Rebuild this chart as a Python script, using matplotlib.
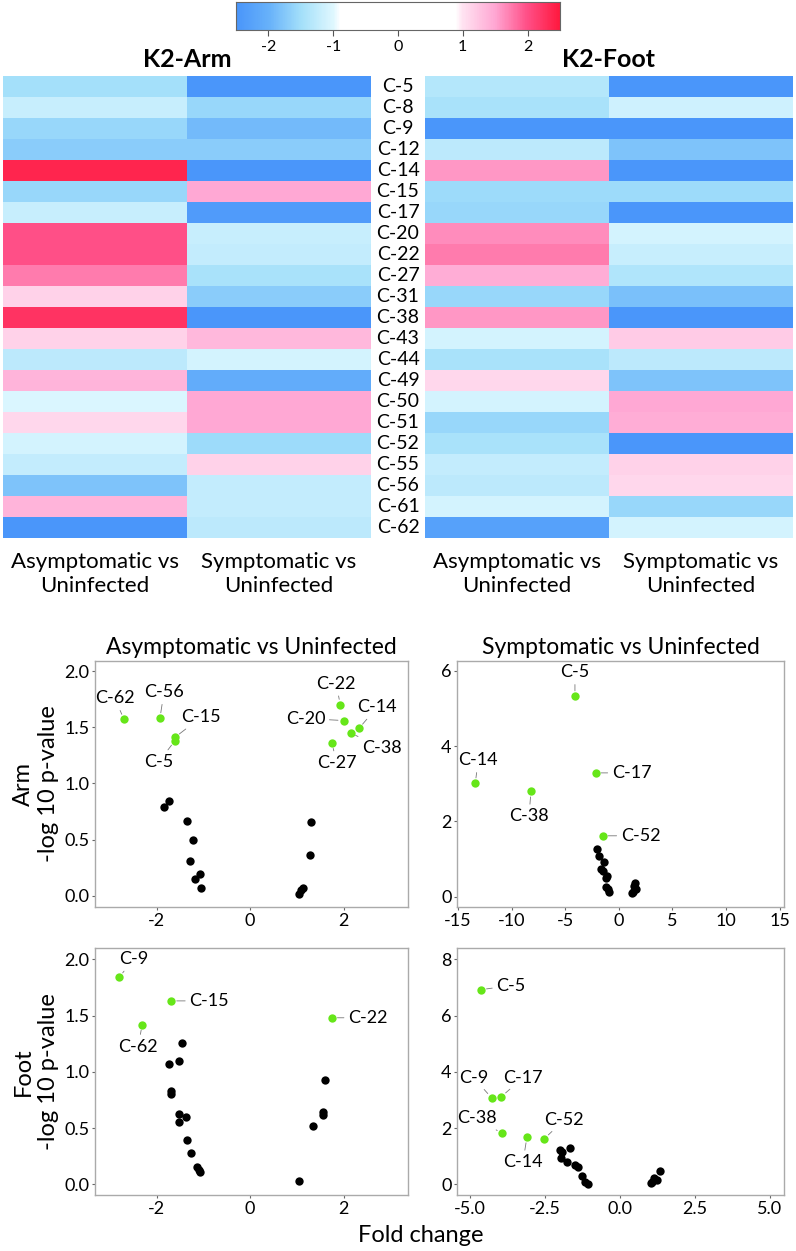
import numpy as np
import matplotlib
matplotlib.use("Agg")
import matplotlib.pyplot as plt
from matplotlib.colors import LinearSegmentedColormap, Normalize

plt.rcParams['font.family'] = ['Lato', 'DejaVu Sans']
plt.rcParams['axes.unicode_minus'] = False

# heatmap data (fold change, colour scale clipped at +-2.5)
compounds = ["C-5", "C-8", "C-9", "C-12", "C-14", "C-15", "C-17", "C-20", "C-22", "C-27", "C-31",
             "C-38", "C-43", "C-44", "C-49", "C-50", "C-51", "C-52", "C-55", "C-56", "C-61", "C-62"]
arm_asym = [-1.5, -1.2, -1.6, -1.7, 2.4, -1.6, -1.2, 2.0, 2.0, 1.75, 1.15,
            2.25, 1.15, -1.3, 1.4, -1.05, 1.1, -1.1, -1.25, -1.8, 1.4, -2.5]
arm_sym = [-2.5, -1.6, -1.9, -1.7, -2.5, 1.5, -2.4, -1.2, -1.25, -1.45, -1.7,
           -2.5, 1.35, -1.1, -2.1, 1.5, 1.5, -1.55, 1.15, -1.25, -1.25, -1.3]
foot_asym = [-1.35, -1.45, -2.5, -1.3, 1.6, -1.55, -1.6, 1.65, 1.75, 1.45, -1.6,
             1.6, -1.1, -1.45, 1.1, -1.1, -1.6, -1.45, -1.25, -1.3, -1.1, -2.3]
foot_sym = [-2.5, -1.15, -2.5, -1.8, -2.5, -1.55, -2.5, -1.1, -1.2, -1.4, -1.85,
            -2.5, 1.2, -1.3, -1.8, 1.5, 1.45, -2.5, 1.15, 1.1, -1.6, -1.1]
col_labels = ["Asymptomatic vs\nUninfected", "Symptomatic vs\nUninfected"]

# volcano data: (fold change, -log10 p)
arm_asym_sig = {"C-62": (-2.70, 1.57), "C-56": (-1.93, 1.58), "C-15": (-1.61, 1.41), "C-5": (-1.61, 1.38),
                "C-22": (1.93, 1.70), "C-20": (2.00, 1.56), "C-14": (2.33, 1.49), "C-38": (2.15, 1.45),
                "C-27": (1.75, 1.36)}
arm_asym_fc = [-1.85, -1.74, -1.35, -1.23, -1.28, -1.18, -1.08, -1.05, 1.30, 1.28, 1.05, 1.10, 1.14]
arm_asym_p = [0.79, 0.84, 0.67, 0.50, 0.31, 0.15, 0.19, 0.065, 0.66, 0.36, 0.02, 0.05, 0.065]

arm_sym_sig = {"C-5": (-4.1, 5.32), "C-14": (-13.4, 3.01), "C-38": (-8.2, 2.80),
               "C-17": (-2.17, 3.29), "C-52": (-1.52, 1.62)}
arm_sym_fc = [-2.08, -1.86, -1.40, -1.68, -1.52, -1.15, -1.24, -1.21, -1.05, -0.90, 1.49, 1.43, 1.55, 1.24, 1.33]
arm_sym_p = [1.28, 1.08, 0.92, 0.75, 0.69, 0.55, 0.49, 0.27, 0.20, 0.13, 0.38, 0.28, 0.20, 0.09, 0.13]

foot_asym_sig = {"C-9": (-2.80, 1.84), "C-15": (-1.69, 1.63), "C-62": (-2.31, 1.42), "C-22": (1.75, 1.48)}
foot_asym_fc = [-1.46, -1.52, -1.73, -1.70, -1.70, -1.53, -1.37, -1.53, -1.35, -1.26, -1.14, -1.10, -1.07,
                1.61, 1.57, 1.57, 1.35, 1.05]
foot_asym_p = [1.26, 1.10, 1.07, 0.83, 0.80, 0.625, 0.60, 0.55, 0.39, 0.28, 0.15, 0.13, 0.11,
               0.93, 0.64, 0.62, 0.52, 0.03]

foot_sym_sig = {"C-5": (-4.63, 6.92), "C-9": (-4.28, 3.08), "C-17": (-3.95, 3.12), "C-38": (-3.93, 1.81),
                "C-14": (-3.10, 1.67), "C-52": (-2.52, 1.62)}
foot_sym_fc = [-1.99, -1.68, -1.94, -1.96, -1.77, -1.51, -1.39, -1.27, -1.17, -1.08, 1.33, 1.24, 1.13, 1.02, 1.07]
foot_sym_p = [1.22, 1.29, 1.14, 0.92, 0.80, 0.69, 0.63, 0.30, 0.09, 0.02, 0.47, 0.15, 0.23, 0.03, 0.09]

# label offsets in pixels (dx, dy) from each point
off_arm_asym = {"C-62": (-9, 21), "C-56": (4, 26), "C-15": (26, 20), "C-5": (-16, -21), "C-22": (-4, 21),
                "C-20": (-38, 2), "C-14": (18, 21), "C-38": (31, -15), "C-27": (5, -20)}
off_arm_sym = {"C-5": (0, 24), "C-14": (3, 23), "C-38": (-2, -25), "C-17": (36, 0), "C-52": (38, 0)}
off_foot_asym = {"C-9": (14, 18), "C-15": (38, 0), "C-62": (-4, -22), "C-22": (36, 0)}
off_foot_sym = {"C-5": (30, 4), "C-9": (-18, 20), "C-17": (22, 19), "C-38": (-25, 15), "C-14": (-4, -25),
                "C-52": (20, 19)}

W, H = 796, 1251
fig = plt.figure(figsize=(W / 100, H / 100), dpi=100)


def ax_px(x0, y0, x1, y1):
    return fig.add_axes([x0 / W, 1 - y1 / H, (x1 - x0) / W, (y1 - y0) / H])


cmap = LinearSegmentedColormap.from_list("fc", [
    (0.0, "#4a96fa"), (0.1, "#68b2fa"), (0.2, "#a4e0fa"), (0.3, "#e0f8ff"), (0.32, "#ffffff"),
    (0.68, "#ffffff"), (0.7, "#ffe4f2"), (0.8, "#ffa8d4"), (0.9, "#ff5088"), (1.0, "#ff1a40")])
norm = Normalize(-2.5, 2.5)

# colour bar
cax = ax_px(236, 2, 560, 30)
grad = np.linspace(-2.5, 2.5, 400).reshape(1, -1)
cax.imshow(grad, cmap=cmap, norm=norm, aspect="auto", extent=[-2.5, 2.5, 0, 1])
cax.set_yticks([])
cax.set_xticks([-2, -1, 0, 1, 2])
cax.tick_params(axis="x", length=4, color="#555555", labelsize=11.5, pad=3)
for s in cax.spines.values():
    s.set_color("#666666")
    s.set_linewidth(0.8)

# heatmaps
for (x0, x1), title, c1, c2 in [((3, 371), "K2-Arm", arm_asym, arm_sym),
                                 ((425, 793), "K2-Foot", foot_asym, foot_sym)]:
    ax = ax_px(x0, 76, x1, 538)
    data = np.array([c1, c2]).T
    ax.pcolormesh(np.arange(3), np.arange(len(compounds) + 1), data, cmap=cmap, norm=norm,
                  edgecolors="face", linewidth=0, antialiased=False)
    ax.set_ylim(len(compounds), 0)
    ax.set_xlim(0, 2)
    ax.set_xticks([0.5, 1.5])
    ax.set_xticklabels(col_labels, fontsize=16, linespacing=1.25)
    ax.tick_params(axis="x", length=0, pad=10)
    ax.set_yticks([])
    for s in ax.spines.values():
        s.set_visible(False)
    ax.text(0.5, 1.036, title, transform=ax.transAxes, ha="center", va="center",
            fontsize=18, fontweight="bold")

# row labels between heatmaps
lab_ax = ax_px(371, 76, 425, 538)
lab_ax.set_axis_off()
lab_ax.set_ylim(len(compounds), 0)
lab_ax.set_xlim(0, 1)
for i, c in enumerate(compounds):
    lab_ax.text(0.5, i + 0.5, c, ha="center", va="center", fontsize=14)

green = "#66e619"


def volcano(ax, sig, fc, p, offs, xlim, ylim, xticks, yticks, xfmt, yfmt):
    ax.scatter(fc, p, s=36, color="black", zorder=3, linewidths=0)
    for name, (x, y) in sig.items():
        ax.scatter([x], [y], s=36, color=green, zorder=4, linewidths=0)
        dx, dy = offs[name]
        ax.annotate(name, (x, y), xytext=(dx, dy), textcoords="offset pixels",
                    ha="center", va="center", fontsize=13,
                    arrowprops=dict(arrowstyle="-", color="#777777", lw=0.6, shrinkA=1, shrinkB=4))
    ax.set_xlim(*xlim)
    ax.set_ylim(*ylim)
    ax.set_xticks(xticks)
    ax.set_xticklabels([xfmt.format(v) for v in xticks])
    ax.set_yticks(yticks)
    ax.set_yticklabels([yfmt.format(v) for v in yticks])
    ax.tick_params(labelsize=13, length=2.5, color="#666666", pad=1.5)
    for s in ax.spines.values():
        s.set_color("#aaaaaa")
        s.set_linewidth(1.0)


a1 = ax_px(95, 661, 408, 907)
volcano(a1, arm_asym_sig, arm_asym_fc, arm_asym_p, off_arm_asym, (-3.32, 3.38), (-0.1, 2.09),
        [-2, 0, 2], [0.0, 0.5, 1.0, 1.5, 2.0], "{:g}", "{:.1f}")
a1.set_title("Asymptomatic vs Uninfected", fontsize=16.5, pad=5)
a1.set_ylabel("Arm\n-log 10 p-value", fontsize=17, linespacing=1.2, labelpad=4)

a2 = ax_px(457, 661, 784, 907)
volcano(a2, arm_sym_sig, arm_sym_fc, arm_sym_p, off_arm_sym, (-15.1, 15.4), (-0.27, 6.26),
        [-15, -10, -5, 0, 5, 10, 15], [0, 2, 4, 6], "{:g}", "{:g}")
a2.set_title("Symptomatic vs Uninfected", fontsize=16.5, pad=5)

a3 = ax_px(95, 948, 408, 1195)
volcano(a3, foot_asym_sig, foot_asym_fc, foot_asym_p, off_foot_asym, (-3.32, 3.38), (-0.095, 2.10),
        [-2, 0, 2], [0.0, 0.5, 1.0, 1.5, 2.0], "{:g}", "{:.1f}")
a3.set_ylabel("Foot\n-log 10 p-value", fontsize=17, linespacing=1.2, labelpad=4)

a4 = ax_px(457, 948, 784, 1195)
volcano(a4, foot_sym_sig, foot_sym_fc, foot_sym_p, off_foot_sym, (-5.43, 5.47), (-0.38, 8.4),
        [-5.0, -2.5, 0.0, 2.5, 5.0], [0, 2, 4, 6, 8], "{:.1f}", "{:g}")

fig.text(421 / W, 1 - 1235 / H, "Fold change", ha="center", va="center", fontsize=17)

fig.savefig("out.png", dpi=100)
